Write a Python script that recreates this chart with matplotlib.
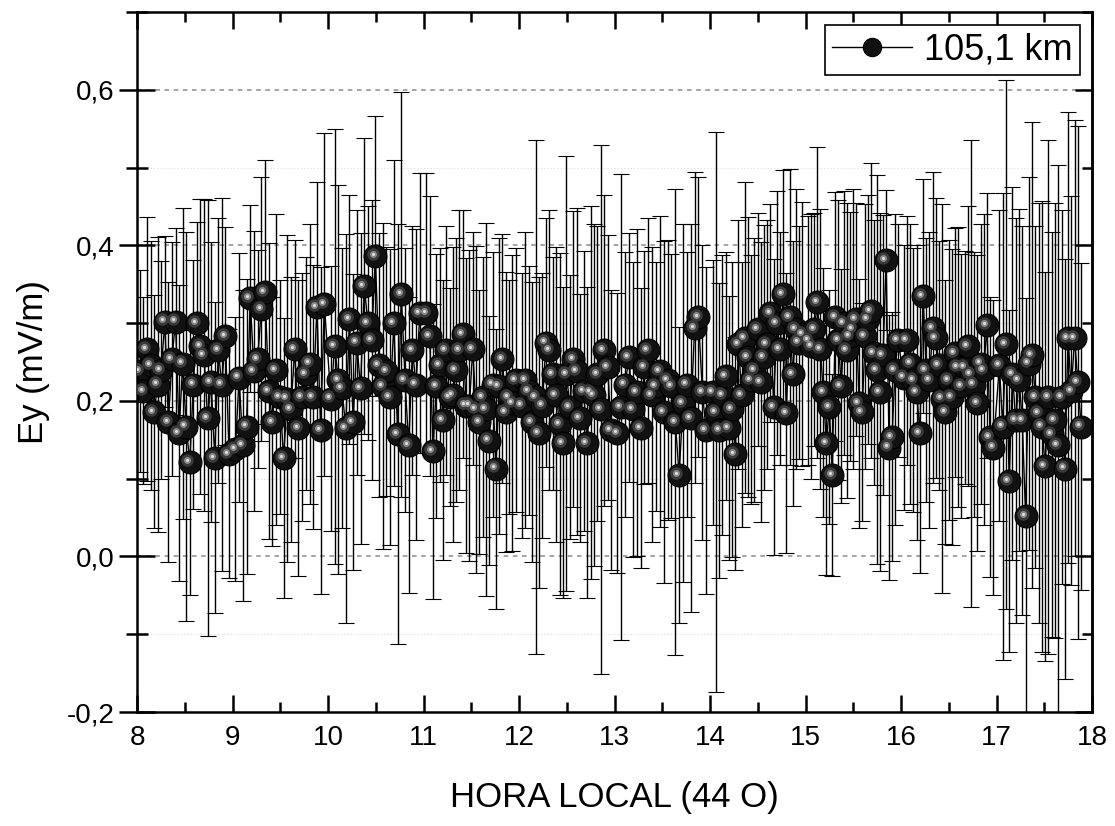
import numpy as np
import matplotlib
matplotlib.use('Agg')
from matplotlib import pyplot as plt
from matplotlib import transforms
from matplotlib.ticker import MultipleLocator, FuncFormatter

plt.rcParams['font.family'] = ['Liberation Sans', 'DejaVu Sans']

# Ey (mV/m) values, grouped by local hour
hours = [8, 9, 10, 11, 12, 13, 14, 15, 16, 17]
hour_span = [1, 1, 1, 1, 1, 1, 1, 1, 1, 0.92]

ey_08 = [0.238, 0.213, 0.267, 0.246, 0.186, 0.221, 0.240, 0.302, 0.173, 0.254,
         0.302, 0.159, 0.248, 0.167, 0.121, 0.221, 0.300, 0.270, 0.259, 0.178,
         0.224, 0.127, 0.265, 0.221, 0.283, 0.132]
ey_09 = [0.138, 0.230, 0.143, 0.167, 0.332, 0.238, 0.254, 0.318, 0.340, 0.213,
         0.173, 0.240, 0.205, 0.127, 0.203, 0.189, 0.267, 0.165, 0.205, 0.235,
         0.248, 0.205, 0.321, 0.162, 0.324]
ey_10 = [0.203, 0.270, 0.227, 0.216, 0.165, 0.305, 0.173, 0.275, 0.216, 0.348,
         0.300, 0.278, 0.386, 0.246, 0.219, 0.238, 0.205, 0.300, 0.157, 0.337,
         0.227, 0.143, 0.265, 0.221, 0.313]
ey_11 = [0.313, 0.283, 0.135, 0.219, 0.246, 0.175, 0.265, 0.205, 0.208, 0.240,
         0.265, 0.286, 0.194, 0.194, 0.267, 0.189, 0.173, 0.205, 0.189, 0.149,
         0.221, 0.113, 0.219, 0.254, 0.186, 0.205, 0.197, 0.227]
ey_12 = [0.194, 0.227, 0.213, 0.173, 0.205, 0.159, 0.194, 0.275, 0.265, 0.235,
         0.208, 0.170, 0.146, 0.235, 0.192, 0.254, 0.238, 0.178, 0.213, 0.146,
         0.211, 0.208, 0.235, 0.189, 0.265, 0.243, 0.162]
ey_13 = [0.159, 0.192, 0.221, 0.256, 0.189, 0.211, 0.165, 0.243, 0.265, 0.208,
         0.219, 0.238, 0.186, 0.227, 0.219, 0.173, 0.105, 0.197, 0.221, 0.178,
         0.294, 0.308, 0.211, 0.162]
ey_14 = [0.211, 0.186, 0.162, 0.208, 0.232, 0.165, 0.189, 0.132, 0.273, 0.208,
         0.281, 0.256, 0.227, 0.240, 0.292, 0.224, 0.256, 0.273, 0.313, 0.192,
         0.300, 0.267, 0.337, 0.184, 0.308, 0.235, 0.292, 0.275, 0.286]
ey_15 = [0.278, 0.270, 0.292, 0.327, 0.267, 0.211, 0.146, 0.192, 0.105, 0.308,
         0.278, 0.219, 0.300, 0.265, 0.283, 0.292, 0.305, 0.197, 0.186, 0.283,
         0.305, 0.316, 0.262, 0.240, 0.211, 0.259, 0.381, 0.140, 0.154, 0.240,
         0.278]
ey_16 = [0.230, 0.278, 0.248, 0.227, 0.211, 0.159, 0.335, 0.240, 0.227, 0.294,
         0.281, 0.246, 0.203, 0.186, 0.227, 0.205, 0.262, 0.243, 0.219, 0.243,
         0.270, 0.235, 0.221, 0.197, 0.248, 0.240, 0.297, 0.154, 0.140]
ey_17 = [0.246, 0.167, 0.273, 0.097, 0.235, 0.175, 0.227, 0.175, 0.052, 0.248,
         0.259, 0.205, 0.184, 0.167, 0.116, 0.205, 0.157, 0.175, 0.143, 0.205,
         0.113, 0.281, 0.213, 0.281, 0.224, 0.167]

# error bar half widths (mV/m)
err_08 = [0.13, 0.12, 0.17, 0.16, 0.15, 0.19, 0.14, 0.11, 0.18, 0.15,
          0.12, 0.19, 0.20, 0.25, 0.17, 0.16, 0.13, 0.19, 0.20, 0.28,
          0.18, 0.20, 0.17, 0.24, 0.14, 0.16]
err_09 = [0.17, 0.16, 0.20, 0.19, 0.12, 0.18, 0.14, 0.17, 0.17, 0.19,
          0.16, 0.20, 0.15, 0.18, 0.21, 0.17, 0.14, 0.19, 0.16, 0.15,
          0.18, 0.17, 0.16, 0.21, 0.22]
err_10 = [0.17, 0.28, 0.25, 0.18, 0.25, 0.16, 0.19, 0.17, 0.20, 0.19,
          0.15, 0.18, 0.18, 0.17, 0.21, 0.16, 0.19, 0.21, 0.27, 0.26,
          0.17, 0.19, 0.16, 0.20, 0.18]
err_11 = [0.18, 0.18, 0.19, 0.17, 0.15, 0.18, 0.16, 0.14, 0.19, 0.17,
          0.18, 0.16, 0.19, 0.20, 0.15, 0.21, 0.17, 0.18, 0.24, 0.16,
          0.17, 0.18, 0.19, 0.16, 0.18, 0.15, 0.19, 0.17]
err_12 = [0.17, 0.19, 0.16, 0.18, 0.33, 0.20, 0.17, 0.16, 0.18, 0.15,
          0.19, 0.22, 0.20, 0.28, 0.17, 0.19, 0.21, 0.16, 0.18, 0.20,
          0.24, 0.22, 0.19, 0.34, 0.20, 0.17, 0.18]
err_13 = [0.18, 0.30, 0.17, 0.16, 0.19, 0.21, 0.18, 0.15, 0.17, 0.19,
          0.16, 0.20, 0.22, 0.18, 0.17, 0.30, 0.19, 0.23, 0.17, 0.25,
          0.20, 0.18, 0.19, 0.21]
err_14 = [0.17, 0.36, 0.19, 0.18, 0.16, 0.17, 0.19, 0.15, 0.16, 0.17,
          0.20, 0.18, 0.16, 0.17, 0.15, 0.18, 0.17, 0.16, 0.14, 0.19,
          0.17, 0.15, 0.16, 0.18, 0.19, 0.17, 0.18, 0.15, 0.17]
err_15 = [0.16, 0.17, 0.15, 0.20, 0.18, 0.16, 0.17, 0.15, 0.13, 0.16,
          0.18, 0.15, 0.17, 0.19, 0.16, 0.18, 0.15, 0.16, 0.14, 0.17,
          0.16, 0.19, 0.17, 0.25, 0.23, 0.18, 0.09, 0.17, 0.16, 0.20,
          0.15]
err_16 = [0.17, 0.16, 0.18, 0.17, 0.19, 0.18, 0.15, 0.17, 0.19, 0.20,
          0.18, 0.16, 0.25, 0.17, 0.18, 0.19, 0.16, 0.18, 0.17, 0.15,
          0.18, 0.30, 0.17, 0.19, 0.18, 0.20, 0.17, 0.18, 0.19]
err_17 = [0.20, 0.30, 0.34, 0.22, 0.24, 0.26, 0.22, 0.25, 0.28, 0.24,
          0.30, 0.22, 0.27, 0.29, 0.25, 0.33, 0.26, 0.28, 0.36, 0.24,
          0.27, 0.29, 0.25, 0.28, 0.33, 0.21]

ey_by_hour = [ey_08, ey_09, ey_10, ey_11, ey_12, ey_13, ey_14, ey_15, ey_16, ey_17]
err_by_hour = [err_08, err_09, err_10, err_11, err_12, err_13, err_14, err_15, err_16, err_17]

# samples are evenly spaced inside each hour
t = []
for h, span, v in zip(hours, hour_span, ey_by_hour):
    n = len(v)
    t.extend(h + 0.03 + (span - 0.03) * np.arange(n) / n)
t = np.array(t)
ey = np.concatenate(ey_by_hour)
err = np.concatenate(err_by_hour)

fig = plt.figure(figsize=(11.15, 8.26), dpi=100)
ax = fig.add_axes([0.1229, 0.138, 0.8565, 0.8475])

# grid: dashed at majors, faint dotted at minors
for y in [0.6, 0.4, 0.2, 0.0]:
    ax.axhline(y, color='#8c8c8c', lw=1.1, ls=(0, (3, 3)), zorder=0)
for y in [0.5, 0.3, 0.1, -0.1]:
    ax.axhline(y, color='#dcdcdc', lw=0.8, ls=(0, (1, 2)), zorder=0)

ax.errorbar(t, ey, yerr=err, color='black', lw=1.0, elinewidth=1.0,
            capsize=5.5, capthick=1.0, marker='o', ms=16.5,
            mfc='#111111', mec='black', mew=0.8, zorder=2, label='105,1 km')

# fake sphere shading on the markers
shift = transforms.ScaledTranslation(-2.0 / 72, 1.5 / 72, fig.dpi_scale_trans)
ax.plot(t, ey, 'o', ms=9, color='#3a3a3a', mec='none', zorder=3,
        transform=ax.transData + shift)
ax.plot(t, ey, 'o', ms=5, color='#8a8a8a', mec='none', zorder=4,
        transform=ax.transData + shift)
ax.plot(t, ey, 'o', ms=2.2, color='#e0e0e0', mec='none', zorder=5,
        transform=ax.transData + shift)

ax.set_xlim(8, 18)
ax.set_ylim(-0.2, 0.7)
ax.xaxis.set_major_locator(MultipleLocator(1))
ax.xaxis.set_minor_locator(MultipleLocator(0.5))
ax.yaxis.set_major_locator(MultipleLocator(0.2))
ax.yaxis.set_minor_locator(MultipleLocator(0.1))
ax.yaxis.set_major_formatter(FuncFormatter(lambda v, p: f"{v:.1f}".replace('.', ',').replace('-0,0', '0,0')))

ax.tick_params(axis='x', which='both', direction='in', top=True, width=1.8, labelsize=20, pad=9)
ax.tick_params(axis='x', which='major', length=12)
ax.tick_params(axis='x', which='minor', length=7)
ax.tick_params(axis='y', which='both', direction='inout', right=False, width=1.8, labelsize=20, pad=3)
ax.tick_params(axis='y', which='major', length=26)
ax.tick_params(axis='y', which='minor', length=16)

right = ax.secondary_yaxis('right')
right.yaxis.set_major_locator(MultipleLocator(0.2))
right.yaxis.set_minor_locator(MultipleLocator(0.1))
right.tick_params(which='both', direction='in', width=1.8, labelright=False)
right.tick_params(which='major', length=12)
right.tick_params(which='minor', length=7)
right.spines['right'].set_linewidth(1.8)

for s in ax.spines.values():
    s.set_linewidth(1.8)

ax.set_xlabel('HORA LOCAL (44 O)', fontsize=25, labelpad=22)
ax.set_ylabel('Ey (mV/m)', fontsize=25, labelpad=12)

h, l = ax.get_legend_handles_labels()
leg = ax.legend([h[0][0]], l, loc='upper right', fontsize=26, frameon=True,
                fancybox=False, edgecolor='black', framealpha=1,
                handlelength=2.2, handletextpad=0.35, borderpad=0.2,
                borderaxespad=0, bbox_to_anchor=(0.9874, 0.981), markerscale=0.8)
leg.get_frame().set_linewidth(1.2)

fig.savefig('out.png', dpi=100)
